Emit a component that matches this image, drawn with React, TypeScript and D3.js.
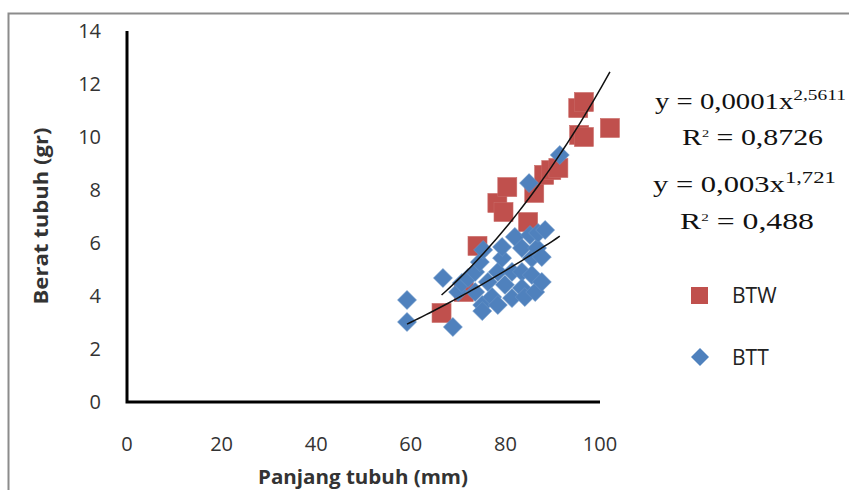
import React from 'react'
import * as d3 from 'd3'

// BTW series (panjang mm, berat gr)
const btwX = [66.5, 71.2, 74.1, 78.3, 79.6, 80.4, 84.8, 86.1, 88.2, 89.7, 91.2, 95.6, 96.6, 95.4, 96.6, 102.1]
const btwY = [3.36, 4.15, 5.89, 7.51, 7.17, 8.11, 6.79, 7.89, 8.57, 8.75, 8.83, 10.08, 10.0, 11.09, 11.32, 10.34]

// BTT series
const bttX = [59.2, 59.2, 68.9, 66.8, 70.0, 70.8, 72.1, 73.6, 74.6, 75.3, 73.6, 75.1, 75.1, 76.3, 77.2, 78.4, 78.4, 79.3, 79.3,
  79.9, 81.4, 81.4, 82.0, 83.5, 83.5, 83.5, 84.1, 85.6, 85.6, 86.3, 86.7, 87.7, 87.7, 85.2, 86.9, 88.4, 85.0, 91.5]
const bttY = [3.85, 3.02, 2.83, 4.68, 4.15, 4.49, 4.68, 4.91, 5.28, 5.74, 4.15, 3.66, 3.43, 4.53, 3.96, 3.66, 4.91, 5.43, 5.85,
  4.42, 3.92, 4.91, 6.23, 5.81, 4.91, 4.30, 3.96, 5.43, 4.79, 4.15, 5.81, 5.47, 4.53, 6.30, 6.38, 6.49, 8.26, 9.32]

// power trendlines y = a * x^b, as drawn in the picture
const trendBTW = [6.54e-5, 2.628]
const trendBTT = [0.002473, 1.735]

const xTicks = [0, 20, 40, 60, 80, 100]
const yTicks = [0, 2, 4, 6, 8, 10, 12, 14]
const seriesNames = ['BTW', 'BTT']
const eqBTW = ['y = 0,0001x', '2,5611', '0,8726']
const eqBTT = ['y = 0,003x', '1,721', '0,488']

const RED = '#C0504D'
const BLUE = '#4F81BD'
const SANS = '"Open Sans", Lato, sans-serif'
const SERIF = '"Liberation Serif", "Times New Roman", serif'

const App = () => {
  const width = 849
  const height = 490

  const x = d3.scaleLinear().domain([0, 100]).range([127, 600])
  const y = d3.scaleLinear().domain([0, 14]).range([402, 31])

  const trend = (xs: number[], [a, b]: number[]) => {
    const [lo, hi] = d3.extent(xs) as [number, number]
    const pts = d3.range(0, 41).map(i => lo + (hi - lo) * i / 40)
    return d3.line<number>().x(v => x(v)).y(v => y(a * Math.pow(v, b)))(pts) || ''
  }

  const sq = 19
  const dia = 9.5

  return (
    <svg width={width} height={height} style={{ position: 'absolute', left: 0, top: 0, background: '#fff' }}>
      <rect x={8.5} y={13.5} width={width} height={height} fill='#fff' stroke='#8c8c8c' strokeWidth={2} />

      {/* axes */}
      <path d={`M${x(0)},${y(14)}V${y(0)}H${x(100)}`} fill='none' stroke='#000' strokeWidth={3} />

      {yTicks.map(t => (
        <text key={'y' + t} x={101} y={y(t) + 7} textAnchor='end' fontFamily={SANS} fontSize={20} fill='#333'>{t}</text>
      ))}
      {xTicks.map(t => (
        <text key={'x' + t} x={x(t)} y={451} textAnchor='middle' fontFamily={SANS} fontSize={20} fill='#333'>{t}</text>
      ))}

      <text transform='translate(48,216) rotate(-90)' textAnchor='middle' fontFamily={SANS} fontSize={19} fontWeight='bold' fill='#333'
        textLength={177} lengthAdjust='spacingAndGlyphs'>Berat tubuh (gr)</text>
      <text x={363} y={484} textAnchor='middle' fontFamily={SANS} fontSize={20} fontWeight='bold' fill='#333'
        textLength={210} lengthAdjust='spacingAndGlyphs'>Panjang tubuh (mm)</text>

      {/* BTW squares */}
      {btwX.map((v, i) => (
        <rect key={'r' + i} x={x(v) - sq / 2} y={y(btwY[i]) - sq / 2} width={sq} height={sq} fill={RED} stroke='#c96a67' strokeWidth={0.6} />
      ))}
      {/* BTT diamonds */}
      {bttX.map((v, i) => {
        const cx = x(v)
        const cy = y(bttY[i])
        return <path key={'b' + i} d={`M${cx},${cy - dia}L${cx + dia},${cy}L${cx},${cy + dia}L${cx - dia},${cy}Z`} fill={BLUE} stroke='#6a95c8' strokeWidth={0.6} />
      })}

      <path d={trend(btwX, trendBTW)} fill='none' stroke='#111' strokeWidth={1.5} />
      <path d={trend(bttX, trendBTT)} fill='none' stroke='#111' strokeWidth={1.5} />

      {/* equations */}
      <g fontFamily={SERIF} fill='#111'>
        <text transform='translate(655,109) scale(1.25,1)' fontSize={23}>
          {eqBTW[0]}<tspan fontSize={15.5} dy={-9}>{eqBTW[1]}</tspan>
        </text>
        <text transform='translate(682,145) scale(1.3,1)' fontSize={23}>
          R<tspan fontSize={11} dy={-8}>2</tspan><tspan dy={8}> = {eqBTW[2]}</tspan>
        </text>
        <text transform='translate(653,192) scale(1.33,1)' fontSize={23}>
          {eqBTT[0]}<tspan fontSize={17} dy={-9}>{eqBTT[1]}</tspan>
        </text>
        <text transform='translate(680,229) scale(1.38,1)' fontSize={23}>
          R<tspan fontSize={11} dy={-8}>2</tspan><tspan dy={8}> = {eqBTT[2]}</tspan>
        </text>
      </g>

      {/* legend */}
      <rect x={691} y={287} width={17} height={17} fill={RED} />
      <text x={732} y={303} fontFamily={SANS} fontSize={21} fill='#222'>{seriesNames[0]}</text>
      <path d='M700,348L709,357L700,366L691,357Z' fill={BLUE} />
      <text x={732} y={365} fontFamily={SANS} fontSize={21} fill='#222'>{seriesNames[1]}</text>
    </svg>
  )
}

export default App
